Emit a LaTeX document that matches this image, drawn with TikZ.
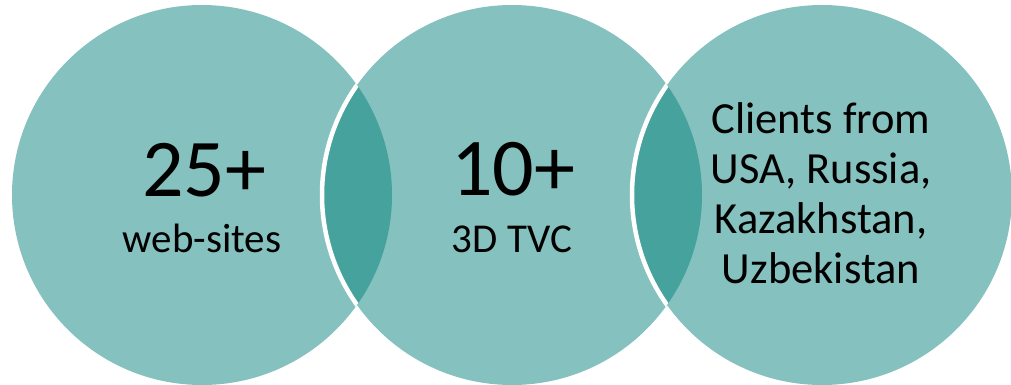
\documentclass[tikz,border=0pt]{standalone}
\usepackage{fontspec}
\setmainfont{Carlito}
\usetikzlibrary{positioning}
\definecolor{vLight}{HTML}{85C1BE}
\definecolor{vDark}{HTML}{46A29D}

\begin{document}
\begin{tikzpicture}[x=1pt, y=-1pt,
      bignum/.style={font=\fontsize{82}{82}\selectfont, inner sep=0pt, anchor=base},
      lbl/.style={font=\fontsize{41}{50}\selectfont, inner sep=0pt, anchor=base},
      gap/.style={white, line width=4.5pt}]
    \useasboundingbox (0,0) rectangle (1011,384);
    \coordinate (c1) at (202,195);
    \coordinate (c2) at (512,195);
    \coordinate (c3) at (822,195);
    \fill[vLight] (c1) circle[radius=190pt];
    \fill[vLight] (c2) circle[radius=190pt];
    \fill[vLight] (c3) circle[radius=190pt];
    % overlaps
    \begin{scope}
      \clip (c1) circle[radius=190pt];
      \fill[vDark] (c2) circle[radius=190pt];
      \draw[gap] (c2) circle[radius=190pt];
    \end{scope}
    \begin{scope}
      \clip (c2) circle[radius=190pt];
      \fill[vDark] (c3) circle[radius=190pt];
      \draw[gap] (c3) circle[radius=190pt];
    \end{scope}
    \node[bignum] (n1) at (204,196) {25+};
    \node[lbl]    (t1) at (202,252) {web-sites};
    \node[bignum] (n2) at (513,195) {10+};
    \node[lbl]    (t2) at (512,252) {3D TVC};
    \node[lbl, font=\fontsize{44.5}{49.7}\selectfont, align=center] (t3) at (821,283)
          {Clients from\\USA, Russia,\\Kazakhstan,\\Uzbekistan};
  \end{tikzpicture}
\end{document}
